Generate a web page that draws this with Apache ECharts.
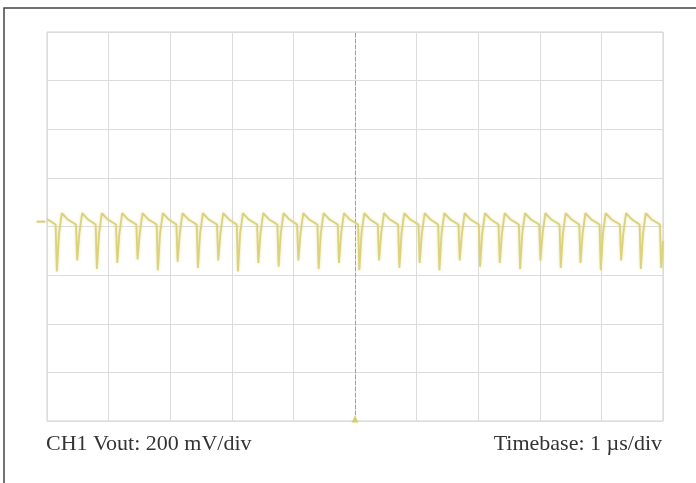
<!DOCTYPE html>
<html>
<head>
<meta charset="utf-8">
<script src="https://cdn.jsdelivr.net/npm/echarts@6/dist/echarts.min.js"></script>
<style>
  html, body { margin: 0; padding: 0; background: #fff; }
  #chart { width: 696px; height: 483px; }
</style>
</head>
<body>
<div id="chart"></div>
<script>
// Time axis: 10 divisions at 1 µs/div; voltage axis: 8 divisions at 200 mV/div
const timeUs = [
  0, 0.07,
  0.14, 0.16, 0.195, 0.24, 0.33,
  0.47, 0.49, 0.525, 0.57, 0.66,
  0.79, 0.81, 0.845, 0.89, 0.98,
  1.12, 1.14, 1.175, 1.22, 1.31,
  1.45, 1.47, 1.505, 1.55, 1.64,
  1.78, 1.80, 1.835, 1.88, 1.97,
  2.10, 2.12, 2.155, 2.20, 2.29,
  2.43, 2.45, 2.485, 2.53, 2.62,
  2.76, 2.78, 2.815, 2.86, 2.95,
  3.08, 3.10, 3.135, 3.18, 3.27,
  3.41, 3.43, 3.465, 3.51, 3.60,
  3.74, 3.76, 3.795, 3.84, 3.93,
  4.06, 4.08, 4.115, 4.16, 4.25,
  4.39, 4.41, 4.445, 4.49, 4.58,
  4.72, 4.74, 4.775, 4.82, 4.91,
  5.05, 5.07, 5.105, 5.15, 5.24,
  5.37, 5.39, 5.425, 5.47, 5.56,
  5.70, 5.72, 5.755, 5.80, 5.89,
  6.03, 6.05, 6.085, 6.13, 6.22,
  6.35, 6.37, 6.405, 6.45, 6.54,
  6.68, 6.70, 6.735, 6.78, 6.87,
  7.01, 7.03, 7.065, 7.11, 7.20,
  7.33, 7.35, 7.385, 7.43, 7.52,
  7.66, 7.68, 7.715, 7.76, 7.85,
  7.99, 8.01, 8.045, 8.09, 8.18,
  8.32, 8.34, 8.375, 8.42, 8.51,
  8.64, 8.66, 8.695, 8.74, 8.83,
  8.97, 8.99, 9.025, 9.07, 9.16,
  9.30, 9.32, 9.355, 9.40, 9.49,
  9.62, 9.64, 9.675, 9.72, 9.81,
  9.95, 9.97, 10.0
];
const ch1mV = [
  30, 20,
  8, -185, -30, 55, 30,
  8, -140, -30, 55, 30,
  8, -175, -30, 55, 30,
  8, -150, -30, 55, 30,
  8, -135, -30, 55, 30,
  8, -180, -30, 55, 30,
  8, -145, -30, 55, 30,
  8, -170, -30, 55, 30,
  8, -140, -30, 55, 30,
  8, -185, -30, 55, 30,
  8, -150, -30, 55, 30,
  8, -165, -30, 55, 30,
  8, -140, -30, 55, 30,
  8, -175, -30, 55, 30,
  8, -150, -30, 55, 30,
  8, -180, -30, 55, 30,
  8, -140, -30, 55, 30,
  8, -170, -30, 55, 30,
  8, -150, -30, 55, 30,
  8, -180, -30, 55, 30,
  8, -140, -30, 55, 30,
  8, -165, -30, 55, 30,
  8, -150, -30, 55, 30,
  8, -175, -30, 55, 30,
  8, -140, -30, 55, 30,
  8, -170, -30, 55, 30,
  8, -150, -30, 55, 30,
  8, -180, -30, 55, 30,
  8, -140, -30, 55, 30,
  8, -175, -30, 55, 30,
  8, -170, -60
];
const xRange = [0, 10];      // µs
const yRange = [-800, 800];  // mV
const leftLabel = 'CH1 Vout: 200 mV/div';
const rightLabel = 'Timebase: 1 \u00b5s/div';

const traceData = timeUs.map((t, i) => [t, ch1mV[i]]);

const chart = echarts.init(document.getElementById('chart'), null, { renderer: 'canvas' });
const gridLine = { show: true, lineStyle: { color: '#dcdcdc', width: 1 } };
chart.setOption({
  backgroundColor: '#ffffff',
  animation: false,
  grid: { left: 47, right: 33, top: 32, bottom: 62, show: true, borderColor: '#d0d0d0', borderWidth: 1 },
  xAxis: {
    type: 'value', min: xRange[0], max: xRange[1], interval: 1,
    axisLine: { show: false }, axisTick: { show: false }, axisLabel: { show: false },
    splitLine: gridLine
  },
  yAxis: {
    type: 'value', min: yRange[0], max: yRange[1], interval: 200,
    axisLine: { show: false }, axisTick: { show: false }, axisLabel: { show: false },
    splitLine: gridLine
  },
  series: [{
    type: 'line',
    data: traceData,
    showSymbol: false,
    lineStyle: { color: '#dbd27c', width: 1.8, shadowColor: 'rgba(214,204,110,0.55)', shadowBlur: 3 },
    z: 5,
    markLine: {
      silent: true, symbol: 'none', label: { show: false },
      lineStyle: { color: '#a0a0a0', type: 'dashed', width: 1 },
      data: [{ xAxis: 5 }]
    },
    markPoint: {
      silent: true, label: { show: false },
      itemStyle: { color: '#d8cd6c' },
      data: [
        { coord: [5, -800], symbol: 'triangle', symbolSize: [7, 7], symbolOffset: [0, -2] },
        { coord: [0, 20], symbol: 'rect', symbolSize: [9, 2], symbolOffset: [-6, 0] }
      ]
    }
  }],
  graphic: [
    { type: 'rect', shape: { x: 4, y: 8, width: 720, height: 500 }, style: { fill: 'none', stroke: '#444', lineWidth: 1.5 }, silent: true },
    { type: 'text', left: 46, top: 433, style: { text: leftLabel, font: '22px "Liberation Serif", serif', fill: '#333' } },
    { type: 'text', right: 34, top: 433, style: { text: rightLabel, font: '22px "Liberation Serif", serif', fill: '#333' } }
  ]
});
</script>
</body>
</html>
